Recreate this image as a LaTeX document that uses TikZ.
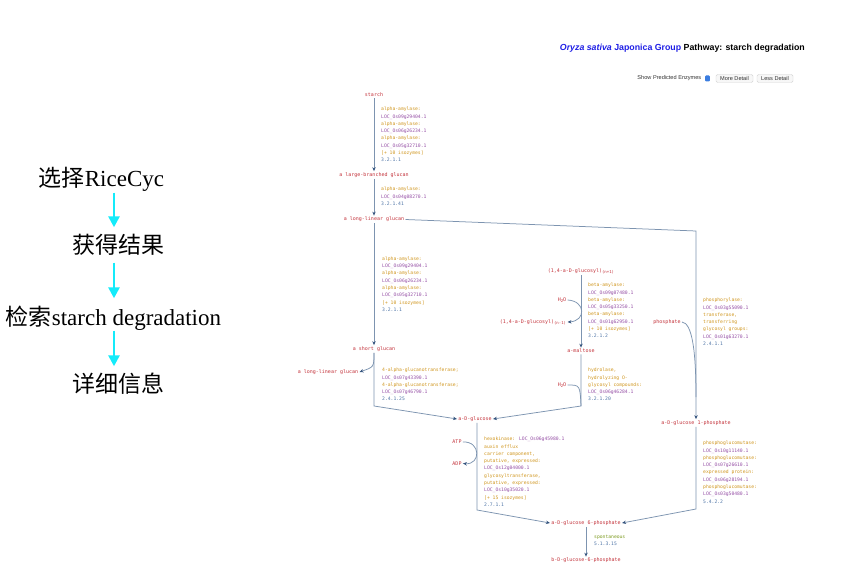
\documentclass[tikz,border=0pt]{standalone}
\usepackage{fontspec}
\setmainfont{Liberation Serif}
\newfontfamily\cjk{Noto Sans CJK SC}
\newfontfamily\pw{DejaVu Sans Mono}
\newfontfamily\ui{Liberation Sans}
\usetikzlibrary{arrows.meta}

\definecolor{chem}{HTML}{C4343C}
\definecolor{enzc}{HTML}{D0961E}
\definecolor{genec}{HTML}{9650A6}
\definecolor{ecc}{HTML}{4E74A6}
\definecolor{sponc}{HTML}{7C9A1E}
\definecolor{linec}{HTML}{7D94B0}
\definecolor{tipc}{HTML}{34547E}
\definecolor{titleblue}{HTML}{1F1FE6}
\definecolor{flowc}{RGB}{20,235,250}
\definecolor{btnborder}{HTML}{D4D4D4}
\definecolor{btnfill}{HTML}{F7F7F7}
\definecolor{toggleblue}{HTML}{3B7DE0}

% colour of each kind of line inside an enzyme block
\newcommand{\enz}[1]{\textcolor{enzc}{#1}}
\newcommand{\gene}[1]{\textcolor{genec}{#1}}
\newcommand{\ecnum}[1]{\textcolor{ecc}{#1}}
\newcommand{\subtxt}[1]{\raisebox{-1.2pt}{\fontsize{4}{4}\selectfont #1}}

\tikzset{
  stepname/.style={font=\fontsize{23}{26}\selectfont, inner sep=0pt,
    text height=18pt, text depth=5pt},
  flowarrow/.style={draw=flowc, line width=2.6pt,
    -{Triangle[length=11pt,width=11pt,color=flowc]}},
  chemname/.style={font=\pw\fontsize{5}{6}\selectfont, text=chem, inner sep=1.2pt},
  enzblock/.style={font=\pw\fontsize{4.7}{7.3}\selectfont, align=left,
    anchor=north west, inner sep=0pt},
  conn/.style={draw=linec, line width=0.75pt,
    -{Stealth[length=4pt,width=3.4pt,color=tipc]}},
  joinline/.style={draw=linec, line width=0.75pt},
  btnlabel/.style={font=\ui\fontsize{5.6}{6.5}\selectfont, text=black!80, inner sep=0pt},
  btnbox/.style={btnlabel, draw=btnborder, fill=btnfill, rounded corners=1.5pt,
    minimum height=8pt, inner xsep=2pt},
}

\begin{document}
\begin{tikzpicture}[x=1pt,y=-1pt]
\useasboundingbox (0,0) rectangle (852,575);
\fill[white] (0,0) rectangle (852,575);

% ---------- workflow on the left ----------
\coordinate (ax) at (114,0);
\node[stepname] (s1) at (101.5,180) {{\cjk 选择}RiceCyc};
\node[stepname] (s2) at (118.5,247) {\cjk 获得结果};
\node[stepname] (s3) at (113.5,319) {{\cjk 检索}starch degradation};
\node[stepname] (s4) at (118.5,386) {\cjk 详细信息};
\draw[flowarrow, shorten <=1pt, shorten >=8pt] (s1.south -| ax) -- (s2.north -| ax);
\draw[flowarrow, shorten <=4pt, shorten >=9pt] (s2.south -| ax) -- (s3.north -| ax);
\draw[flowarrow, shorten <=0pt, shorten >=8pt] (s3.south -| ax) -- (s4.north -| ax);

% ---------- header ----------
\node[anchor=base east, inner sep=0pt, font=\ui\bfseries\fontsize{8.8}{10}\selectfont]
  (title) at (805,50.5)
  {\textcolor{titleblue}{\itshape Oryza sativa} \textcolor{titleblue}{Japonica Group} Pathway: starch degradation};
\node[btnlabel, anchor=east] (spe) at (701.5,78.5) {Show Predicted Enzymes};
\node[fill=toggleblue, rounded corners=1pt, minimum width=4.6pt, minimum height=6pt,
  inner sep=0pt] (tog) at (707.5,78.5) {};
\node[btnbox, minimum width=37pt] (more) at (734.5,78.5) {More Detail};
\node[btnbox, minimum width=36pt] (less) at (775,78.5) {Less Detail};

% ---------- compounds ----------
\node[chemname] (starch)  at (374,95)  {starch};
\node[chemname] (lbg)     at (374,175) {a large-branched glucan};
\node[chemname] (llg)     at (374,219.5) {a long-linear glucan};
\node[chemname] (sg)      at (374,349) {a short glucan};
\node[chemname] (llgb)    at (328,372) {a long-linear glucan};
\node[chemname] (glc)     at (475,419) {a-D-glucose};
\node[chemname] (gsix)    at (586,523) {a-D-glucose 6-phosphate};
\node[chemname] (bgsix)   at (586,560.5) {b-D-glucose-6-phosphate};
\node[chemname] (gone)    at (696,423) {a-D-glucose 1-phosphate};
\node[chemname] (glcnp)   at (581,271) {(1,4-a-D-glucosyl)\subtxt{(n+1)}};
\node[chemname] (glcnm)   at (533,322) {(1,4-a-D-glucosyl)\subtxt{(n-1)}};
\node[chemname] (malt)    at (581,351) {a-maltose};
\node[chemname] (wone)    at (562,300) {H\subtxt{2}O};
\node[chemname] (wtwo)    at (562,385) {H\subtxt{2}O};
\node[chemname] (phos)    at (667,322) {phosphate};
\node[chemname] (atp)     at (457,442) {ATP};
\node[chemname] (adp)     at (457,463.5) {ADP};

% ---------- bends and junctions ----------
\coordinate (cshort) at (374,406);
\coordinate (cright) at (696,231);
\coordinate (cmalt)  at (581,406);
\coordinate (cphos)  at (696,397);
\coordinate (cgone)  at (696,509);
\coordinate (cglc)   at (477,510);

% ---------- reactions ----------
\draw[conn] (starch) -- (lbg);
\draw[conn] (lbg) -- (llg);
\draw[conn] (llg) -- (sg);
\draw[conn] (sg.south) .. controls (374,367) .. (llgb.east);
\draw[conn] (sg.south) -- (cshort) -- (glc.west);
\draw[conn] (llg.east) -- (cright) -- (gone.north);
\draw[conn] (glcnp.south -| malt) -- (malt);
\draw[conn] (wone.east) .. controls (586,301) and (586,321) .. (glcnm.east);
\draw[conn] (malt.south) -- (cmalt) -- (glc.east);
\draw[joinline] (wtwo.east) .. controls (580,385) .. (cmalt);
\draw[joinline] (phos.east) .. controls (692,323) and (696,350) .. (cphos);
\draw[conn] (gone.south) -- (cgone) -- (gsix.east);
\draw[conn] (glc.south -| cglc) -- (cglc) -- (gsix.west);
\draw[conn] (gsix) -- (bgsix);
\draw[conn] (atp.east) .. controls (481,441) and (481,465) .. (adp.east);

% ---------- enzymes ----------
\node[enzblock] (ea) at (381,107) {\enz{alpha-amylase:}\\ \gene{LOC\_Os09g29404.1}\\
  \enz{alpha-amylase:}\\ \gene{LOC\_Os06g26234.1}\\ \enz{alpha-amylase:}\\
  \gene{LOC\_Os05g32710.1}\\ \enz{[+ 10 isozymes]}\\ \ecnum{3.2.1.1}};
\node[enzblock] (eb) at (381,187) {\enz{alpha-amylase:}\\ \gene{LOC\_Os04g08270.1}\\
  \ecnum{3.2.1.41}};
\node[enzblock] (ec) at (382,256.5) {\enz{alpha-amylase:}\\ \gene{LOC\_Os09g29404.1}\\
  \enz{alpha-amylase:}\\ \gene{LOC\_Os06g26234.1}\\ \enz{alpha-amylase:}\\
  \gene{LOC\_Os05g32710.1}\\ \enz{[+ 10 isozymes]}\\ \ecnum{3.2.1.1}};
\node[enzblock] (ed) at (382,368) {\enz{4-alpha-glucanotransferase;}\\
  \gene{LOC\_Os07g43390.1}\\ \enz{4-alpha-glucanotransferase;}\\
  \gene{LOC\_Os07g46790.1}\\ \ecnum{2.4.1.25}};
\node[enzblock] (ee) at (588,283) {\enz{beta-amylase:}\\ \gene{LOC\_Os09g07480.1}\\
  \enz{beta-amylase:}\\ \gene{LOC\_Os05g33250.1}\\ \enz{beta-amylase:}\\
  \gene{LOC\_Os01g62950.1}\\ \enz{[+ 10 isozymes]}\\ \ecnum{3.2.1.2}};
\node[enzblock] (ef) at (588,368) {\enz{hydrolase,}\\ \enz{hydrolyzing O-}\\
  \enz{glycosyl compounds:}\\ \gene{LOC\_Os06g46284.1}\\ \ecnum{3.2.1.20}};
\node[enzblock] (eg) at (703,298) {\enz{phosphorylase:}\\ \gene{LOC\_Os03g55090.1}\\
  \enz{transferase,}\\ \enz{transferring}\\ \enz{glycosyl groups:}\\
  \gene{LOC\_Os01g63270.1}\\ \ecnum{2.4.1.1}};
\node[enzblock] (eh) at (703,441) {\enz{phosphoglucomutase:}\\ \gene{LOC\_Os10g11140.1}\\
  \enz{phosphoglucomutase:}\\ \gene{LOC\_Os07g26610.1}\\ \enz{expressed protein:}\\
  \gene{LOC\_Os06g28194.1}\\ \enz{phosphoglucomutase:}\\ \gene{LOC\_Os03g50480.1}\\
  \ecnum{5.4.2.2}};
\node[enzblock] (ei) at (484,437) {\enz{hexokinase:} \gene{LOC\_Os06g45980.1}\\
  \enz{auxin efflux}\\ \enz{carrier component,}\\ \enz{putative, expressed:}\\
  \gene{LOC\_Os12g04000.1}\\ \enz{glycosyltransferase,}\\ \enz{putative, expressed:}\\
  \gene{LOC\_Os10g35020.1}\\ \enz{[+ 15 isozymes]}\\ \ecnum{2.7.1.1}};
\node[enzblock] (ej) at (594,535) {\textcolor{sponc}{spontaneous}\\ \ecnum{5.1.3.15}};
\end{tikzpicture}
\end{document}
